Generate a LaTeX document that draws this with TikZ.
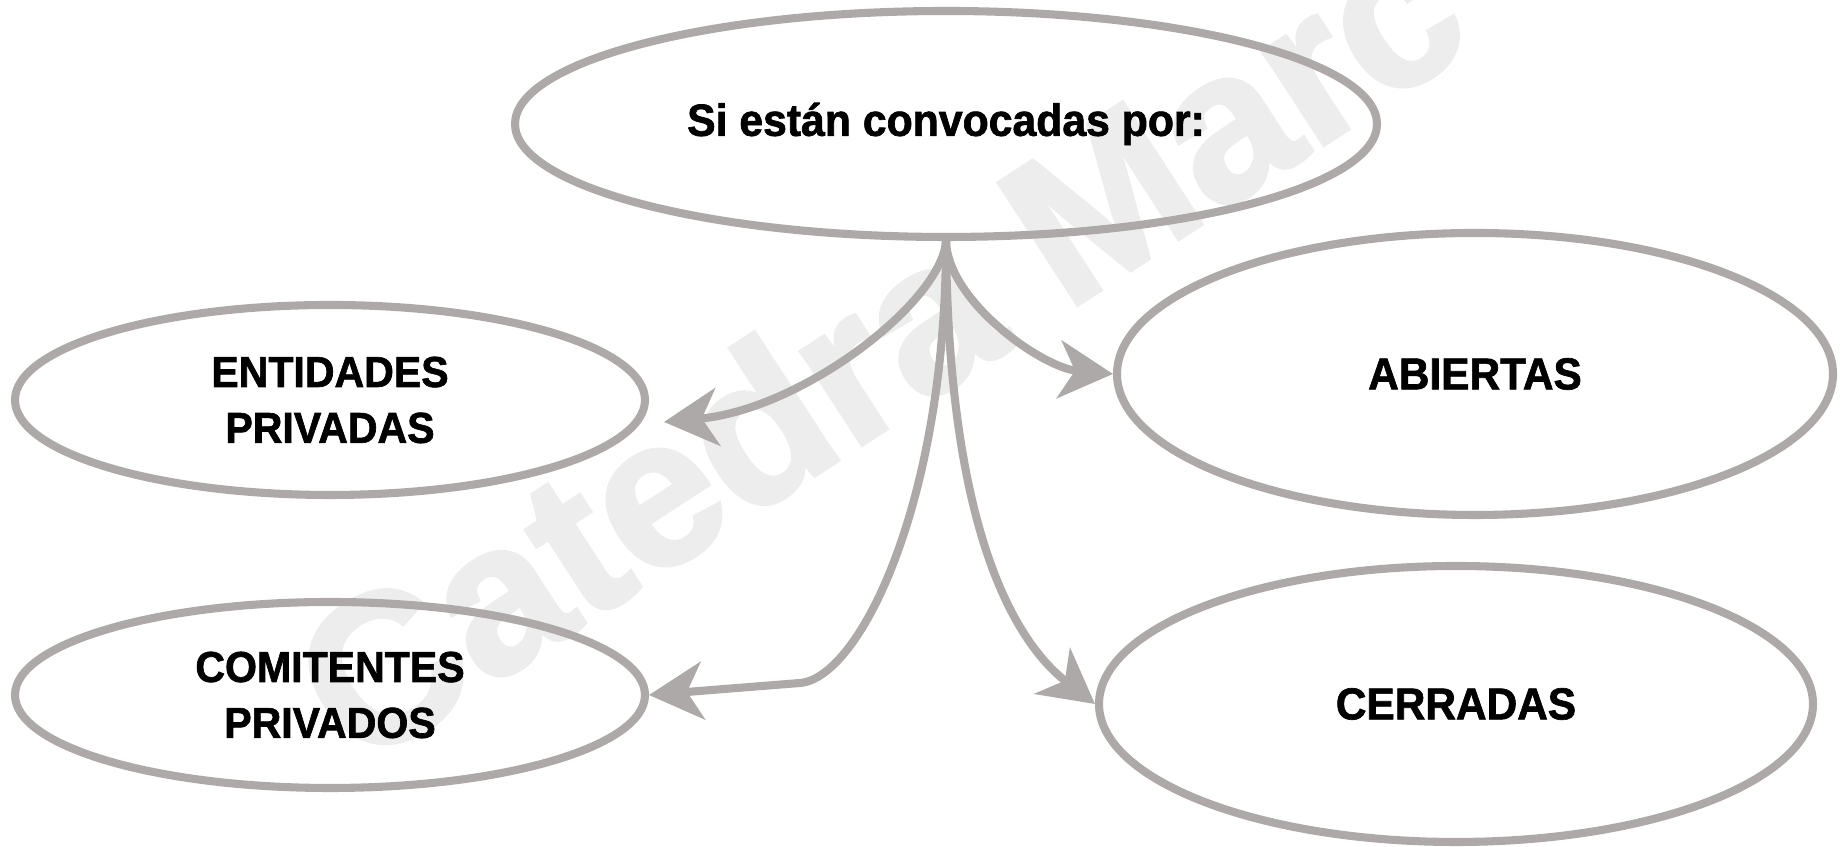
\documentclass[tikz,border=0pt]{standalone}
\usepackage{fontspec}
\setmainfont{Liberation Sans}
\newfontfamily\rotulofont[FakeStretch=0.95, FakeBold=1.5]{Liberation Sans}
\newfontfamily\marcafont[FakeBold=2]{Liberation Sans}
\usetikzlibrary{shapes.geometric,arrows.meta}
\definecolor{gris}{RGB}{173,169,168}
\definecolor{marca}{RGB}{237,237,237}
\begin{document}
\begin{tikzpicture}[
    globo/.style={ellipse, draw=gris, line width=2.3pt, inner sep=0pt, align=center,
                  font=\rotulofont\bfseries\fontsize{12.3}{15.9}\selectfont},
    grande/.style={font=\rotulofont\bfseries\fontsize{12.7}{15}\selectfont},
    flecha/.style={draw=gris, line width=2.3pt,
                   -{Stealth[length=5.4mm, width=5.8mm, inset=1.6mm]}}
]
    \useasboundingbox (0,0) rectangle (18.48,8.47);
    \node[rotate=33, anchor=base west, inner sep=0pt, text=marca,
          font=\marcafont\bfseries\fontsize{60}{60}\selectfont] (sello) at (3.58,0.75) {Catedra Marc};

    \node[globo, minimum width=8.62cm, minimum height=2.26cm,
          font=\rotulofont\bfseries\fontsize{12.8}{15}\selectfont] (conv) at (9.46,7.23) {Si están convocadas por:};
    \node[globo, minimum width=6.30cm, minimum height=1.90cm] (entidades) at (3.30,4.47) {ENTIDADES\\PRIVADAS};
    \node[globo, minimum width=6.30cm, minimum height=1.86cm] (comitentes) at (3.30,1.52) {COMITENTES\\PRIVADOS};
    \node[globo, grande, minimum width=7.16cm, minimum height=2.82cm] (abiertas) at (14.75,4.73) {ABIERTAS};
    \node[globo, grande, minimum width=7.14cm, minimum height=2.76cm] (cerradas) at (14.56,1.43) {CERRADAS};

    \coordinate (entpunta) at (6.64,4.25);
    \coordinate (codo) at (8.00,1.64);
    \draw[flecha] (conv.south) .. controls +(-0.04,-0.6) and +(1.4,0.13) .. (entpunta);
    \draw[flecha] (conv.south) .. controls +(0.02,-0.61) and +(-0.7,0.06) .. (abiertas.west);
    \draw[flecha] (conv.south) .. controls +(0,-2.6) and +(0.6,0.05) .. (codo) -- (comitentes.east);
    \draw[flecha] (conv.south) .. controls +(0.02,-2.81) and +(-0.84,0.65) .. (cerradas.west);
\end{tikzpicture}
\end{document}
